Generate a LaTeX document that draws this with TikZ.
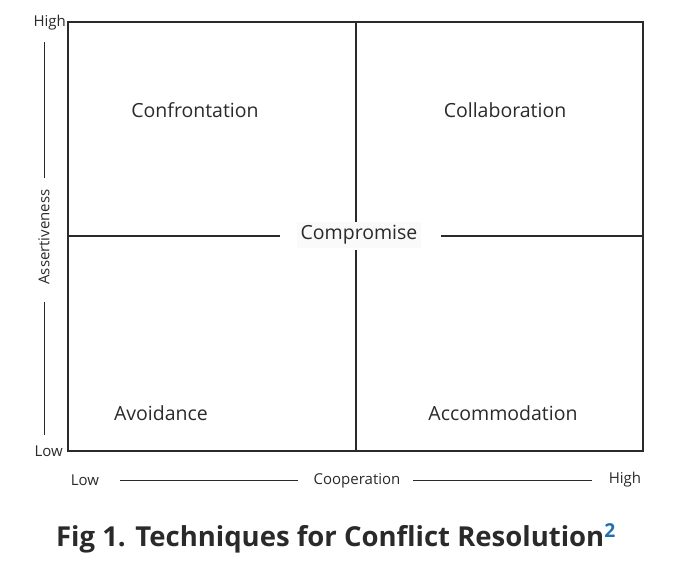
\documentclass[tikz,border=0pt]{standalone}
\usepackage{fontspec}
\setmainfont{Open Sans}
\definecolor{ink}{HTML}{2A2A2A}
\definecolor{supblue}{HTML}{1F6FB5}
\definecolor{compbg}{HTML}{FAFAFA}
\begin{document}
\begin{tikzpicture}[x=1pt,y=-1pt,
  quad/.style={font=\fontsize{19.5}{22}\selectfont,text=ink},
  axl/.style={font=\fontsize{15}{18}\selectfont,text=ink},
  ln/.style={draw=ink,line width=1.1pt},
  axln/.style={draw=ink,line width=1pt}]
\useasboundingbox (0,0) rectangle (687,577);
% grid
\coordinate (tl) at (68,22);
\coordinate (br) at (643,451);
\draw[ln] (tl) rectangle (br);
\node[quad,fill=compbg,inner sep=4pt] (comp) at (359,235) {Compromise};
\coordinate (hl) at (68,236);
\coordinate (hr) at (643,236);
\coordinate (vt) at (356,22);
\coordinate (vb) at (356,451);
\draw[ln] (hl) -- (280,236);
\draw[ln] (441,236) -- (hr);
\draw[ln] (vt) -- (356,222);
\draw[ln] (356,250) -- (vb);
% quadrant labels
\node[quad] (conf) at (195,110) {Confrontation};
\node[quad] (coll) at (505,110) {Collaboration};
\node[quad] (avoid) at (161,413) {Avoidance};
\node[quad] (acc) at (503,413) {Accommodation};
% vertical axis
\node[axl,anchor=east,inner sep=1pt] (yhigh) at (67,23) {High};
\node[axl,anchor=east,inner sep=1pt] (ylow) at (64,451) {Low};
\node[axl,rotate=90] (ass) at (44,237) {Assertiveness};
\coordinate (ya) at (44,42);
\coordinate (yb) at (44,178);
\coordinate (yc) at (44,302);
\coordinate (yd) at (44,435);
\draw[axln] (ya) -- (yb);
\draw[axln] (yc) -- (yd);
% horizontal axis
\node[axl] (xlow) at (85,480) {Low};
\node[axl] (coop) at (357,481) {Cooperation};
\node[axl] (xhigh) at (625,480) {High};
\coordinate (xa) at (120,480);
\coordinate (xb) at (298,480);
\coordinate (xc) at (413,480);
\coordinate (xd) at (592,480);
\draw[axln] (xa) -- (xb);
\draw[axln] (xc) -- (xd);
% caption
\node[font=\fontsize{27.5}{32}\selectfont\bfseries,text=ink] (cap) at (336,538) {Fig 1. Techniques for Conflict Resolution\textsuperscript{\color{supblue}2}};
\end{tikzpicture}
\end{document}
